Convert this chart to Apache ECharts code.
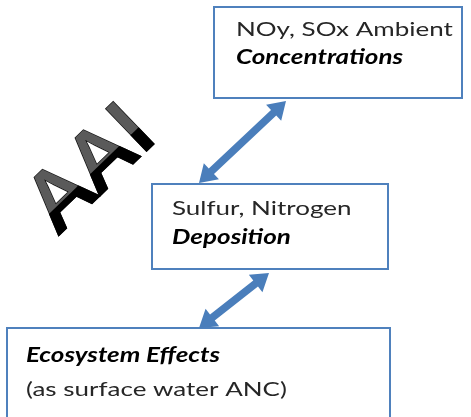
<!DOCTYPE html>
<html lang="en">
<head>
    <meta charset="UTF-8">
    <title>AAI</title>
    <script src="https://cdn.jsdelivr.net/npm/echarts/dist/echarts.min.js"></script>
    <style>
        html, body { margin: 0; padding: 0; background: #fff; }
        #chart1 { width: 471px; height: 417px; }
    </style>
</head>
<body>
<div id="chart1"></div>
</body>
<script type="text/javascript">
    // box texts (plain line / bold-italic line), top to bottom
    var plainLines = ['NOy, SOx Ambient', 'Sulfur, Nitrogen', '(as surface water ANC)'];
    var boldLines = ['Concentrations', 'Deposition', 'Ecosystem Effects'];
    var boldFirst = [false, false, true];
    var watermark = 'AAI';

    var chart1 = echarts.init(document.getElementById('chart1'));

    var BLUE = '#4f81bd';
    var ARROW = '#4a7ebb';
    var FONT = 'Lato, "Open Sans", sans-serif';

    // [x, y, w, h] of each box
    var boxes = [[214, 7, 248, 91], [152, 184, 236, 85], [7, 328, 383, 100]];
    // text anchor: [left x, line1 middle y, line2 middle y]
    var textPos = [[236, 30, 58], [172, 209, 238], [26, 356, 390]];
    // double arrows [x1, y1, x2, y2]
    var arrows = [[286, 101, 199, 183], [269, 273, 199, 328]];

    function arrowShape(a) {
        var x1 = a[0], y1 = a[1], x2 = a[2], y2 = a[3];
        var dx = x2 - x1, dy = y2 - y1;
        var len = Math.sqrt(dx * dx + dy * dy);
        var ux = dx / len, uy = dy / len;
        var px = -uy, py = ux;
        var hw = 3.8, hl = 17, hh = 11;
        function pt(t, o) { return [x1 + ux * t + px * o, y1 + uy * t + py * o]; }
        return [
            pt(0, 0), pt(hl, hh), pt(hl, hw), pt(len - hl, hw), pt(len - hl, hh),
            pt(len, 0), pt(len - hl, -hh), pt(len - hl, -hw), pt(hl, -hw), pt(hl, -hh)
        ];
    }

    var elements = [];
    boxes.forEach(function (b, i) {
        elements.push({
            type: 'rect',
            shape: { x: b[0], y: b[1], width: b[2], height: b[3] },
            style: { fill: '#fff', stroke: BLUE, lineWidth: 2 }
        });
        var lines = boldFirst[i] ? [boldLines[i], plainLines[i]] : [plainLines[i], boldLines[i]];
        lines.forEach(function (t, j) {
            var bold = (t === boldLines[i]);
            elements.push({
                type: 'text',
                x: textPos[i][0],
                y: textPos[i][j + 1],
                scaleX: 1.3,
                style: {
                    text: t,
                    fill: bold ? '#000' : '#262626',
                    font: (bold ? 'italic bold ' : '') + '20px ' + FONT,
                    align: 'left',
                    verticalAlign: 'middle'
                }
            });
        });
    });
    arrows.forEach(function (a) {
        elements.push({
            type: 'polygon',
            shape: { points: arrowShape(a) },
            style: { fill: ARROW }
        });
    });

    var option = {
        backgroundColor: '#fff',
        graphic: { elements: elements }
    };
    chart1.setOption(option);

    // AAI watermark: white halo, grey letters, black lower part
    var zr = chart1.getZr();
    var wm = { x: 93, y: 170, rotation: 44 * Math.PI / 180, scaleX: 1.05 };
    var wmFont = '600 82px "Open Sans", sans-serif';
    function wmText(style) {
        return new echarts.graphic.Text({
            x: wm.x, y: wm.y, rotation: wm.rotation, scaleX: wm.scaleX, z: 10,
            style: Object.assign({
                text: watermark, align: 'center', verticalAlign: 'middle', font: wmFont
            }, style)
        });
    }
    zr.add(wmText({
        fill: '#fff', stroke: '#fff', lineWidth: 10,
        shadowBlur: 6, shadowColor: 'rgba(0,0,0,0.5)'
    }));
    zr.add(wmText({ fill: '#5a5a5a', stroke: '#111', lineWidth: 1.4 }));
    var dark = wmText({ fill: '#000', stroke: '#000', lineWidth: 1.4 });
    dark.setClipPath(new echarts.graphic.Rect({ shape: { x: -200, y: 1, width: 400, height: 100 } }));
    zr.add(dark);
</script>
</html>
